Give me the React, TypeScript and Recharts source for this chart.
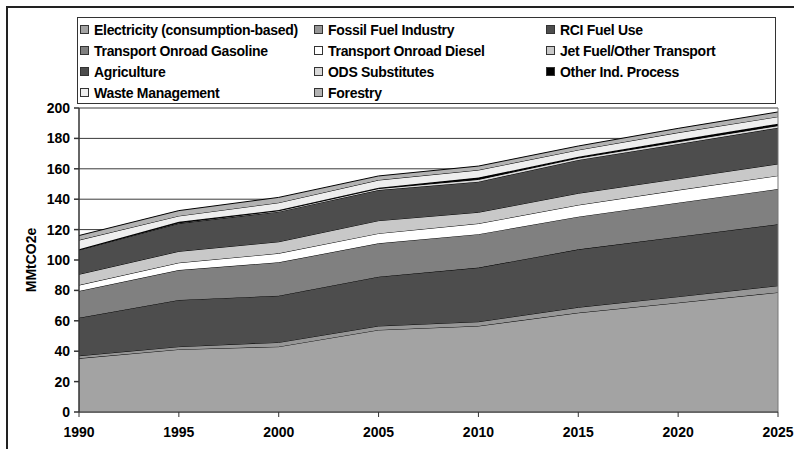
import { AreaChart, Area, XAxis, YAxis, CartesianGrid, ReferenceLine } from "recharts";

const years = [1990, 1995, 2000, 2005, 2010, 2015, 2020, 2025];
const electricity = [35.3, 41.2, 43, 54, 56.6, 65.3, 71.9, 78.7];
const fossilFuel = [1.7, 1.8, 2.8, 2.6, 2.8, 3.6, 4.0, 4.4];
const rciFuel = [25, 30.7, 30.7, 32.4, 35.6, 38.1, 39.4, 40.4];
const gasoline = [17.6, 19.7, 22, 22, 22, 21.5, 22.4, 23.2];
const diesel = [3.9, 4.8, 5.9, 6.5, 7, 7.7, 8.3, 8.8];
const jetFuel = [7.1, 7.5, 7.6, 8.4, 7.4, 7.7, 7.5, 7.7];
const agriculture = [16, 18.4, 19.8, 20.1, 20.1, 21.9, 22.8, 23.8];
const odsSubstitutes = [0.1, 0.4, 0.6, 1.0, 1.5, 1.3, 1.5, 1.4];
const otherIndProcess = [0.4, 0.7, 0.5, 0.6, 1.2, 0.9, 1.2, 1.3];
const wasteMgmt = [6, 3.8, 4.8, 5, 5, 4.4, 4.8, 4.6];
const forestry = [3, 3.5, 3.5, 2.7, 2.6, 2.6, 2.8, 3.1];

const yTicks = [0, 20, 40, 60, 80, 100, 120, 140, 160, 180, 200];

const series = [
  { key: "electricity", name: "Electricity (consumption-based)", values: electricity, color: "#a3a3a3" },
  { key: "fossil", name: "Fossil Fuel Industry", values: fossilFuel, color: "#969696" },
  { key: "rci", name: "RCI Fuel Use", values: rciFuel, color: "#4d4d4d" },
  { key: "gasoline", name: "Transport Onroad Gasoline", values: gasoline, color: "#808080" },
  { key: "diesel", name: "Transport Onroad Diesel", values: diesel, color: "#ffffff" },
  { key: "jet", name: "Jet Fuel/Other Transport", values: jetFuel, color: "#c8c8c8" },
  { key: "agriculture", name: "Agriculture", values: agriculture, color: "#4d4d4d" },
  { key: "ods", name: "ODS Substitutes", values: odsSubstitutes, color: "#d9d9d9" },
  { key: "other", name: "Other Ind. Process", values: otherIndProcess, color: "#000000" },
  { key: "waste", name: "Waste Management", values: wasteMgmt, color: "#eeeeee" },
  { key: "forestry", name: "Forestry", values: forestry, color: "#b2b2b2" },
];

const data = years.map((year, i) => {
  const row: Record<string, number> = { year };
  series.forEach((s) => {
    row[s.key] = s.values[i];
  });
  return row;
});

const font = "'Liberation Sans', Arial, sans-serif";
const legendCols = [80, 314, 546];

function ChartLegend() {
  return (
    <div
      style={{
        position: "absolute",
        left: 77,
        top: 17,
        width: 697,
        height: 85,
        border: "1px solid #333",
        background: "#fff",
        fontFamily: font,
        fontWeight: "bold",
        fontSize: 14,
        color: "#000",
      }}
    >
      {series.map((s, i) => {
        const col = i % 3;
        const row = Math.floor(i / 3);
        return (
          <div
            key={s.key}
            style={{
              position: "absolute",
              left: legendCols[col] - 78,
              top: row * 21 + 1,
              height: 21,
              display: "flex",
              alignItems: "center",
              whiteSpace: "nowrap",
              letterSpacing: -0.3,
            }}
          >
            <span
              style={{
                display: "inline-block",
                width: 7,
                height: 7,
                border: "1px solid #333",
                background: s.color,
                marginRight: 5,
              }}
            />
            {s.name}
          </div>
        );
      })}
    </div>
  );
}

export default function App() {
  return (
    <div style={{ position: "absolute", left: 0, top: 0, width: 794, height: 449, background: "#fff", overflow: "hidden" }}>
      <div
        style={{
          position: "absolute",
          left: 6,
          top: 6,
          width: 820,
          height: 480,
          borderLeft: "2px solid #222",
          borderTop: "2px solid #222",
        }}
      />
      <AreaChart
        width={794}
        height={449}
        data={data}
        margin={{ top: 108, right: 16, bottom: 0, left: 0 }}
        style={{ position: "absolute", left: 0, top: 0 }}
      >
        <CartesianGrid vertical={false} stroke="#3a3a3a" strokeWidth={1} />
        <XAxis
          dataKey="year"
          type="number"
          domain={[1990, 2025]}
          ticks={years}
          height={37}
          tickSize={5}
          tickMargin={10}
          stroke="#333"
          tick={{ fill: "#000", fontSize: 14, fontWeight: "bold", fontFamily: font }}
        />
        <YAxis
          width={79}
          domain={[0, 200]}
          ticks={yTicks}
          tickSize={5}
          tickMargin={4}
          stroke="#333"
          strokeWidth={1.5}
          tick={{ fill: "#000", fontSize: 14, fontWeight: "bold", fontFamily: font }}
          label={{
            value: "MMtCO2e",
            angle: -90,
            position: "insideLeft",
            offset: 31,
            style: { fill: "#000", fontSize: 14, fontWeight: "bold", fontFamily: font, textAnchor: "middle" },
          }}
        />
        {series.map((s) => (
          <Area
            key={s.key}
            type="linear"
            dataKey={s.key}
            name={s.name}
            stackId="1"
            stroke="#000"
            strokeWidth={1}
            fill={s.color}
            fillOpacity={1}
            isAnimationActive={false}
            dot={false}
            activeDot={false}
          />
        ))}
        <ReferenceLine x={2025} stroke="#777" strokeWidth={1} />
      </AreaChart>
      <ChartLegend />
    </div>
  );
}
